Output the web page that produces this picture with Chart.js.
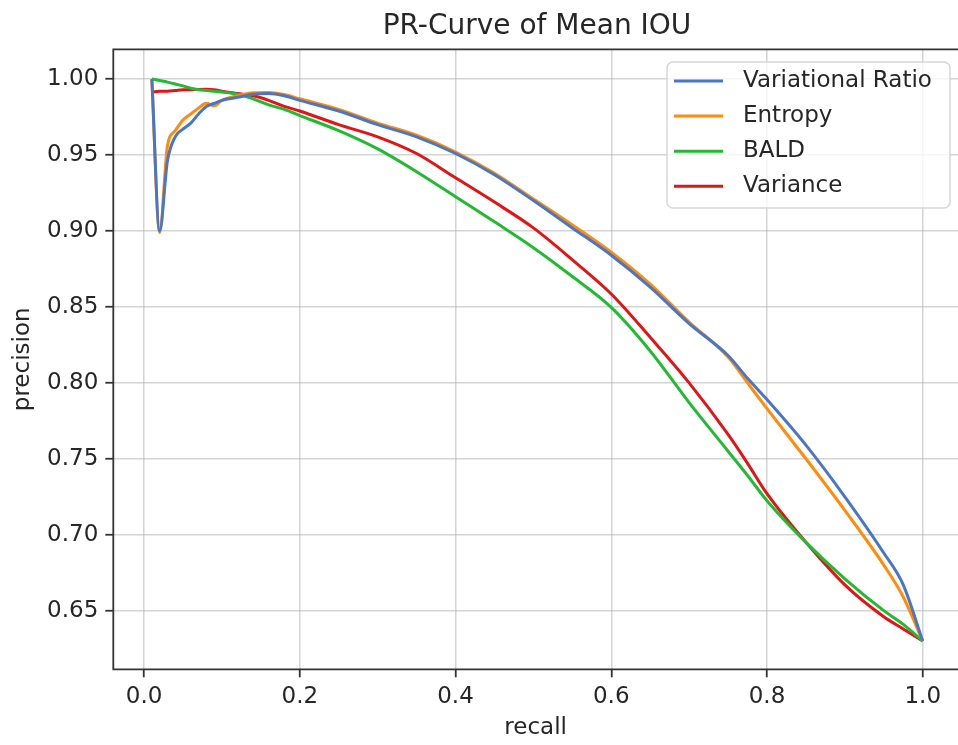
<!DOCTYPE html>
<html>
<head>
<meta charset="utf-8">
<script src="https://cdn.jsdelivr.net/npm/chart.js@4.4.1/dist/chart.umd.min.js"></script>
<style>
  html, body { margin: 0; padding: 0; background: #fff; overflow: hidden; }
  canvas { display: block; }
</style>
</head>
<body>
<canvas id="grafico" width="958" height="745"></canvas>
<script>
// recall points shared by every curve
const recall = [0.01, 0.02, 0.03, 0.04, 0.05, 0.06, 0.07, 0.08, 0.09, 0.10,
  0.12, 0.14, 0.16, 0.18, 0.20, 0.25, 0.30, 0.35, 0.40, 0.45, 0.50, 0.55,
  0.60, 0.65, 0.70, 0.75, 0.775, 0.80, 0.85, 0.90, 0.95, 0.975, 1.00];

const variationalRatio = [1.000, 0.900, 0.946, 0.962, 0.967, 0.971, 0.977, 0.982, 0.984, 0.986,
  0.988, 0.990, 0.9905, 0.989, 0.986, 0.979, 0.970, 0.962, 0.951, 0.937, 0.920, 0.902,
  0.884, 0.863, 0.839, 0.818, 0.803, 0.789, 0.759, 0.725, 0.688, 0.667, 0.630];

const entropy = [1.000, 0.899, 0.956, 0.966, 0.973, 0.977, 0.981, 0.984, 0.9825, 0.986,
  0.989, 0.991, 0.9912, 0.9898, 0.987, 0.980, 0.971, 0.963, 0.952, 0.938, 0.921, 0.904,
  0.886, 0.865, 0.840, 0.817, 0.800, 0.783, 0.750, 0.716, 0.680, 0.659, 0.630];

const bald = [1.000, 0.999, 0.998, 0.9968, 0.9955, 0.994, 0.993, 0.9925, 0.992, 0.9915,
  0.990, 0.987, 0.983, 0.980, 0.976, 0.966, 0.954, 0.939, 0.9225, 0.906, 0.889, 0.870,
  0.8497, 0.821, 0.787, 0.755, 0.739, 0.7224, 0.695, 0.671, 0.650, 0.641, 0.630];

const variance = [0.9915, 0.992, 0.992, 0.9925, 0.993, 0.993, 0.9932, 0.9933, 0.993, 0.992,
  0.9905, 0.989, 0.986, 0.982, 0.979, 0.970, 0.962, 0.951, 0.935, 0.919, 0.902, 0.881,
  0.8585, 0.830, 0.800, 0.766, 0.747, 0.727, 0.695, 0.667, 0.646, 0.638, 0.630];

const nomes = ["Variational Ratio", "Entropy", "BALD", "Variance"];
const cores = ["#4a76c6", "#ff8c0a", "#22b933", "#e01515"];
const xTicks = [0.0, 0.2, 0.4, 0.6, 0.8, 1.0];
const yTicks = [0.65, 0.70, 0.75, 0.80, 0.85, 0.90, 0.95, 1.00];

const fonte = "'DejaVu Sans', sans-serif";
const corTexto = "#262626";

function pontos(valores) {
  return recall.map((r, i) => ({ x: r, y: valores[i] }));
}

const series = [variationalRatio, entropy, bald, variance];

// moldura, titulo e legenda no estilo matplotlib
const moldura = {
  id: "moldura",
  afterDraw(chart) {
    const { ctx, chartArea: a } = chart;
    ctx.save();
    ctx.strokeStyle = "#333";
    ctx.lineWidth = 1.8;
    ctx.beginPath();
    ctx.moveTo(chart.width + 2, a.top);
    ctx.lineTo(a.left, a.top);
    ctx.lineTo(a.left, a.bottom);
    ctx.lineTo(chart.width + 2, a.bottom);
    ctx.stroke();

    ctx.fillStyle = corTexto;
    ctx.font = "28px " + fonte;
    ctx.textAlign = "center";
    ctx.textBaseline = "middle";
    ctx.fillText("PR-Curve of Mean IOU", 537, 27);

    // caixa da legenda
    const bx = 667, by = 62, bw = 283, bh = 146, rr = 6;
    ctx.beginPath();
    ctx.roundRect(bx, by, bw, bh, rr);
    ctx.fillStyle = "rgba(255,255,255,0.8)";
    ctx.fill();
    ctx.strokeStyle = "#d6d6d6";
    ctx.lineWidth = 1.5;
    ctx.stroke();

    ctx.font = "23px " + fonte;
    ctx.textAlign = "left";
    chart.data.datasets.forEach((ds, i) => {
      const y = 81 + i * 35.1;
      ctx.strokeStyle = ds.borderColor;
      ctx.lineWidth = 3;
      ctx.beginPath();
      ctx.moveTo(674, y);
      ctx.lineTo(723, y);
      ctx.stroke();
      ctx.fillStyle = corTexto;
      ctx.fillText(ds.label, 743, y);
    });
    ctx.restore();
  }
};

new Chart(document.getElementById("grafico"), {
  type: "line",
  data: {
    datasets: series.map((s, i) => ({
      label: nomes[i],
      data: pontos(s),
      borderColor: cores[i],
      backgroundColor: cores[i],
      borderWidth: 3,
      pointRadius: 0,
      fill: false,
      cubicInterpolationMode: "monotone"
    }))
  },
  options: {
    responsive: false,
    animation: false,
    layout: { padding: { top: 49.3, right: 0, left: 0, bottom: 0 } },
    plugins: { legend: { display: false }, title: { display: false }, tooltip: { enabled: false } },
    scales: {
      x: {
        type: "linear",
        min: -0.0395,
        max: 1.0453,
        afterFit(scale) { scale.height = 75.7; },
        afterBuildTicks(scale) { scale.ticks = xTicks.map(v => ({ value: v })); },
        ticks: {
          color: corTexto,
          font: { family: fonte, size: 23 },
          padding: 6,
          maxRotation: 0,
          autoSkip: false,
          callback: v => v.toFixed(1)
        },
        grid: {
          color: "rgba(176,176,176,0.55)",
          lineWidth: 1.5,
          tickLength: 8,
          tickColor: "#333",
          tickWidth: 1.8
        },
        border: { display: false },
        title: {
          display: true,
          text: "recall",
          color: corTexto,
          font: { family: fonte, size: 23 },
          padding: { top: 0, bottom: 3 }
        }
      },
      y: {
        type: "linear",
        min: 0.6114,
        max: 1.0196,
        afterFit(scale) { scale.width = 113.3; },
        afterBuildTicks(scale) { scale.ticks = yTicks.map(v => ({ value: v })); },
        ticks: {
          color: corTexto,
          font: { family: fonte, size: 23 },
          padding: 7,
          autoSkip: false,
          callback: v => v.toFixed(2)
        },
        grid: {
          color: "rgba(176,176,176,0.55)",
          lineWidth: 1.5,
          tickLength: 8,
          tickColor: "#333",
          tickWidth: 1.8
        },
        border: { display: false },
        title: {
          display: true,
          text: "precision",
          color: corTexto,
          font: { family: fonte, size: 23 },
          padding: { top: 9, bottom: 0 }
        }
      }
    }
  },
  plugins: [moldura]
});
</script>
</body>
</html>
